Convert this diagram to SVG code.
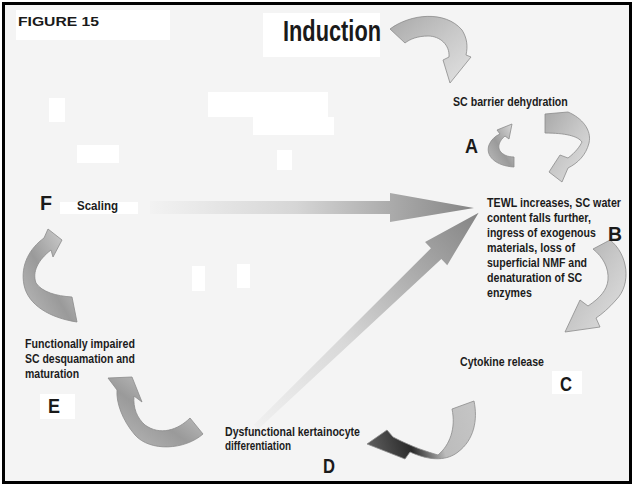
<svg xmlns="http://www.w3.org/2000/svg" width="634" height="486" viewBox="0 0 634 486">
<style>
.t{font-family:"Liberation Sans",Arial,sans-serif;font-weight:bold;fill:#1c1c1c;font-size:12.5px}
.tb{font-family:"Liberation Sans",Arial,sans-serif;font-weight:bold;fill:#1c1c1c;font-size:13px}
.big{font-family:"Liberation Sans",Arial,sans-serif;font-weight:bold;fill:#1a1a1a}
.lt{font-family:"Liberation Sans",Arial,sans-serif;font-weight:bold;fill:#1a1a1a;font-size:21px}
.patch{fill:#ffffff}
.arr{stroke:#8c8c8c;stroke-width:0.8;stroke-linejoin:round}
</style>
<defs>
<linearGradient id="gCurve" x1="0" y1="0" x2="1" y2="1">
<stop offset="0" stop-color="#a9a9a9"/>
<stop offset="0.5" stop-color="#c8c8c8"/>
<stop offset="1" stop-color="#e2e2e2"/>
</linearGradient>
<linearGradient id="gCurveUp" x1="0" y1="1" x2="1" y2="0">
<stop offset="0" stop-color="#bdbdbd"/>
<stop offset="0.45" stop-color="#9a9a9a"/>
<stop offset="1" stop-color="#dcdcdc"/>
</linearGradient>
<linearGradient id="gD" gradientUnits="userSpaceOnUse" x1="472" y1="415" x2="372" y2="445">
<stop offset="0" stop-color="#c4c4c4"/>
<stop offset="0.35" stop-color="#bcbcbc"/>
<stop offset="0.65" stop-color="#2a2a2a"/>
<stop offset="1" stop-color="#5a5a5a"/>
</linearGradient>
<linearGradient id="gH" gradientUnits="userSpaceOnUse" x1="150" y1="0" x2="474" y2="0">
<stop offset="0" stop-color="#f2f2f2"/>
<stop offset="0.45" stop-color="#d6d6d6"/>
<stop offset="1" stop-color="#858585"/>
</linearGradient>
<linearGradient id="gDiag" gradientUnits="userSpaceOnUse" x1="0" y1="0" x2="307" y2="0">
<stop offset="0" stop-color="#f0f0f0"/>
<stop offset="0.4" stop-color="#d8d8d8"/>
<stop offset="1" stop-color="#858585"/>
</linearGradient>
</defs>

<rect x="0" y="0" width="634" height="486" fill="#ffffff"/>
<rect x="3.5" y="3.5" width="627" height="479" fill="#f4f4f4" stroke="#000" stroke-width="3"/>

<g id="patches">
<rect class="patch" x="16" y="10" width="154" height="30"/>
<rect class="patch" x="263" y="13" width="117" height="44"/>
<rect class="patch" x="49" y="98" width="16" height="24"/>
<rect class="patch" x="208" y="92" width="120" height="25"/>
<rect class="patch" x="253" y="117" width="81" height="18"/>
<rect class="patch" x="77" y="145" width="42" height="18"/>
<rect class="patch" x="277" y="150" width="15" height="20"/>
<rect class="patch" x="60" y="202" width="78" height="12"/>
<rect class="patch" x="192" y="266" width="13" height="25"/>
<rect class="patch" x="237" y="264" width="13" height="24"/>
<rect class="patch" x="552" y="371" width="30" height="23"/>
<rect class="patch" x="40" y="394" width="35" height="25"/>
</g>

<g id="connectors">
<path id="arrow-induction" class="arr" fill="url(#gCurve)" d="M 390,29 C 410,14 445,10 462,30 C 467,38 468,46 466,55 L 471,57 L 450,83 L 443,60 L 449,57 C 450,45 440,36 428,36 C 418,36 410,39 405,43 Z"/>
<path id="arrow-a-small" class="arr" fill="url(#gCurveUp)" d="M 514,167 C 496,166 485,156 489,145 C 491,140 495,136 500,134 L 497,130 L 512,124 L 509,139 L 505,136 C 500,140 497,146 500,151 C 503,155 508,157 514,157 Z"/>
<path id="arrow-a-big" class="arr" fill="url(#gCurve)" d="M 545,114 L 568,112 C 582,118 592,130 589,143 C 586,155 578,163 568,168 L 562,182 L 549,172 L 560,155 L 568,158 C 576,152 580,146 582,142 C 578,136 565,133 545,133 Z"/>
<path id="arrow-b" class="arr" fill="url(#gCurve)" d="M 593,249 L 610,240 C 628,254 632,284 616,300 C 609,308 602,314 596,318 L 600,327 L 565,332 L 580,300 L 588,306 C 600,298 607,290 608,280 C 609,268 603,257 593,249 Z"/>
<path id="arrow-d" class="arr" fill="url(#gD)" d="M 452,409 L 474,401 C 478,420 474,440 458,452 C 448,460 432,462 410,452 L 405,459 L 367,444 L 387,430 L 393,437 C 412,447 428,452 438,455 C 450,445 456,428 452,409 Z"/>
<path id="arrow-e" class="arr" fill="url(#gCurveUp)" d="M 203,434 C 185,450 150,452 135,435 C 122,420 116,402 117,390 L 108,378 L 132,377 L 142,402 L 134,396 C 133,408 137,418 145,425 C 160,436 178,430 190,418 Z"/>
<path id="arrow-f" class="arr" fill="url(#gCurveUp)" d="M 77,322 C 50,318 28,305 24,285 C 20,265 30,248 44,238 L 48,229 L 62,240 L 53,257 L 51,250 C 38,260 32,272 36,283 C 42,292 56,296 72,297 Z"/>
<path id="arrow-scaling" fill="url(#gH)" d="M 150,201 L 390,201 L 390,193 L 474,208 L 390,222 L 390,214 L 150,214 Z"/>
<g transform="translate(256,427) rotate(-43.9)">
<path id="arrow-diag" fill="url(#gDiag)" d="M 0,-3 L 250,-7.5 L 250,-16 L 309,0 L 250,16 L 250,7.5 L 0,3 Z"/>
</g>
</g>

<g id="title"><text class="big" x="18" y="26" font-size="13" textLength="81" lengthAdjust="spacingAndGlyphs">FIGURE 15</text></g>
<g id="induction"><text class="big" transform="translate(283,41) scale(0.75,1)" font-size="29" textLength="130.7" lengthAdjust="spacingAndGlyphs">Induction</text></g>

<g id="node-a">
<text class="t" transform="translate(453,106) scale(0.82,1)" textLength="140" lengthAdjust="spacingAndGlyphs">SC barrier dehydration</text>
<text class="lt" x="465" y="153" textLength="13" lengthAdjust="spacingAndGlyphs">A</text>
</g>

<g id="node-b">
<text class="tb" transform="translate(487,207) scale(0.8,1)" textLength="167.5" lengthAdjust="spacingAndGlyphs">TEWL increases, SC water</text>
<text class="tb" transform="translate(487,222) scale(0.8,1)" textLength="130" lengthAdjust="spacingAndGlyphs">content falls further,</text>
<text class="tb" transform="translate(487,237) scale(0.8,1)" textLength="136" lengthAdjust="spacingAndGlyphs">ingress of exogenous</text>
<text class="tb" transform="translate(487,252) scale(0.8,1)" textLength="110" lengthAdjust="spacingAndGlyphs">materials, loss of</text>
<text class="tb" transform="translate(487,267) scale(0.8,1)" textLength="125" lengthAdjust="spacingAndGlyphs">superficial NMF and</text>
<text class="tb" transform="translate(487,282) scale(0.8,1)" textLength="119" lengthAdjust="spacingAndGlyphs">denaturation of SC</text>
<text class="tb" transform="translate(487,297) scale(0.8,1)" textLength="56" lengthAdjust="spacingAndGlyphs">enzymes</text>
<text class="lt" x="608" y="241" textLength="14" lengthAdjust="spacingAndGlyphs">B</text>
</g>

<g id="node-c">
<text class="t" transform="translate(460,366) scale(0.82,1)" textLength="102.4" lengthAdjust="spacingAndGlyphs">Cytokine release</text>
<text class="lt" x="560" y="391" textLength="12" lengthAdjust="spacingAndGlyphs">C</text>
</g>

<g id="node-d">
<text class="t" transform="translate(225,436) scale(0.82,1)" textLength="164.6" lengthAdjust="spacingAndGlyphs">Dysfunctional kertainocyte</text>
<text class="t" transform="translate(225,450) scale(0.82,1)" textLength="80.5" lengthAdjust="spacingAndGlyphs">differentiation</text>
<text class="lt" x="323" y="473" textLength="12" lengthAdjust="spacingAndGlyphs">D</text>
</g>

<g id="node-e">
<text class="t" transform="translate(25,348) scale(0.82,1)" textLength="134" lengthAdjust="spacingAndGlyphs">Functionally impaired</text>
<text class="t" transform="translate(25,363) scale(0.82,1)" textLength="134" lengthAdjust="spacingAndGlyphs">SC desquamation and</text>
<text class="t" transform="translate(25,378) scale(0.82,1)" textLength="66" lengthAdjust="spacingAndGlyphs">maturation</text>
<text class="lt" x="48" y="413" textLength="12" lengthAdjust="spacingAndGlyphs">E</text>
</g>

<g id="node-f">
<text class="t" transform="translate(77,210) scale(0.82,1)" textLength="50" lengthAdjust="spacingAndGlyphs">Scaling</text>
<text class="lt" x="40" y="210" textLength="12" lengthAdjust="spacingAndGlyphs">F</text>
</g>
</svg>
